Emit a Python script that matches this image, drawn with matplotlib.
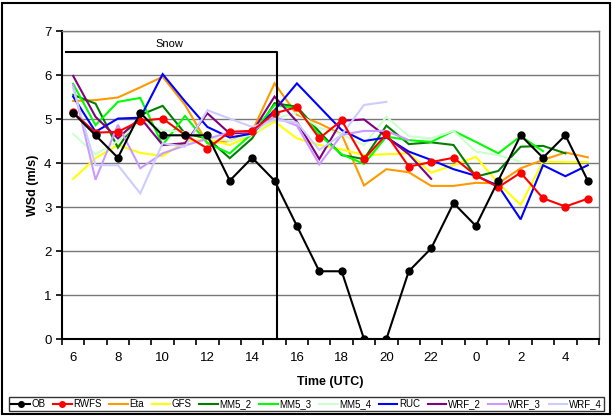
import matplotlib
matplotlib.use("Agg")
import matplotlib.pyplot as plt
from matplotlib.patches import Rectangle
import numpy as np

plt.rcParams['font.family'] = ['Liberation Sans', 'DejaVu Sans']

hours = [6, 7, 8, 9, 10, 11, 12, 13, 14, 15, 16, 17, 18, 19, 20, 21, 22, 23,
         0, 1, 2, 3, 4, 5]

ob = [5.14, 4.63, 4.12, 5.14, 4.63, 4.63, 4.63, 3.60, 4.12, 3.60, 2.57, 1.54,
      1.54, 0.00, 0.00, 1.54, 2.06, 3.09, 2.57, 3.60, 4.63, 4.12, 4.63, 3.60]
rwfs = [5.15, 4.69, 4.71, 4.96, 5.01, 4.64, 4.33, 4.71, 4.73, 5.13, 5.27, 4.56,
        4.97, 4.09, 4.65, 3.92, 4.02, 4.12, 3.72, 3.45, 3.78, 3.20, 3.01, 3.19]
eta = [5.41, 5.43, 5.49, 5.72, 5.96, 5.32, 4.45, 4.50, 4.72, 5.81, 5.10, 4.90,
       4.65, 3.49, 3.86, 3.79, 3.48, 3.48, 3.55, 3.54, 3.88, 4.07, 4.24, 4.13]
gfs = [3.64, 4.11, 4.41, 4.23, 4.16, 4.48, 4.54, 4.41, 4.64, 4.94, 4.56, 4.41,
       4.31, 4.18, 4.20, 4.22, 3.78, 3.95, 4.14, 3.54, 3.05, 4.03, 4.02, 4.02]
mm5_2 = [5.55, 5.35, 4.35, 5.09, 5.30, 4.67, 4.56, 4.11, 4.56, 5.36, 5.28, 4.71,
         4.18, 4.09, 4.85, 4.43, 4.47, 4.41, 3.69, 3.82, 4.37, 4.39, 4.22]
mm5_3 = [5.80, 4.86, 5.39, 5.48, 4.41, 5.07, 4.45, 4.22, 4.67, 5.32, 5.24, 4.64,
         4.20, 3.98, 4.60, 4.52, 4.48, 4.73, 4.48, 4.22, 4.61, 4.27]
mm5_4 = [4.66, 4.20, 4.50, 4.95, 4.75, 4.70, 4.60, 4.50, 4.65, 5.00, 5.15, 4.80,
         4.65, 4.41, 5.05, 4.61, 4.56, 4.73, 4.26, 4.18, 4.03]
ruc = [5.51, 4.71, 5.01, 5.03, 6.02, 5.40, 4.82, 4.58, 4.67, 5.20, 5.81, 5.28,
       4.75, 4.50, 4.58, 4.26, 4.07, 3.86, 3.71, 3.48, 2.72, 3.95, 3.70, 3.95]
wrf_2 = [5.98, 5.05, 4.56, 5.03, 4.41, 4.45, 5.13, 4.67, 4.70, 5.51, 4.94, 4.09,
         4.96, 4.99, 4.60, 4.20, 3.64]
wrf_3 = [5.77, 3.62, 4.87, 3.88, 4.22, 4.40, 4.55, 4.70, 4.72, 5.05, 4.85, 3.97,
         4.64, 4.73, 4.73, 4.52]
wrf_4 = [5.70, 3.95, 3.95, 3.31, 4.45, 4.37, 5.20, 5.01, 4.82, 4.98, 4.92, 4.30,
         4.64, 5.32, 5.39]

series = [
    ("OB", ob, "#000000"),
    ("RWFS", rwfs, "#FF0000"),
    ("Eta", eta, "#FF9900"),
    ("GFS", gfs, "#FFFF00"),
    ("MM5_2", mm5_2, "#008000"),
    ("MM5_3", mm5_3, "#00FF00"),
    ("MM5_4", mm5_4, "#CCFFCC"),
    ("RUC", ruc, "#0000FF"),
    ("WRF_2", wrf_2, "#800080"),
    ("WRF_3", wrf_3, "#CC99FF"),
    ("WRF_4", wrf_4, "#CCCCFF"),
]

snow_end = 9.1
snow_level = 6.52

fig = plt.figure(figsize=(6.13, 4.17), dpi=100)
fig.patch.set_facecolor("white")
ax = fig.add_axes([0.1011, 0.187, 0.876, 0.7386])

x = np.arange(len(hours))
handles = {}
for name, vals, color in series:
    if name in ("OB", "RWFS"):
        continue
    h, = ax.plot(x[:len(vals)], vals, color=color, lw=1.5, label=name, zorder=3,
                 solid_joinstyle="miter")
    handles[name] = h
for name, vals, color in series[1::-1]:
    h, = ax.plot(x[:len(vals)], vals, color=color, lw=1.5, marker="o", ms=5,
                 label=name, zorder=5, solid_joinstyle="miter")
    handles[name] = h

# snow period bracket
ax.plot([-0.3, snow_end, snow_end], [snow_level, snow_level, 0], color="black",
        lw=1.5, zorder=6, clip_on=False)
ax.text(4.3, snow_level + 0.08, "Snow", ha="center", va="bottom", fontsize=8)

ax.set_xlim(-0.5, len(hours) - 0.5)
ax.set_ylim(0, 7)
ax.set_yticks(range(0, 8))
ax.grid(axis="y", color="#777777", lw=1.0, zorder=1)
ax.set_axisbelow(True)

ax.set_xticks(x[::2])
ax.set_xticklabels([str(h) for h in hours[::2]], fontsize=9.5)
ax.set_xticks(np.arange(-0.5, len(hours), 1.0), minor=True)
ax.tick_params(axis="x", which="major", length=0, pad=9)
ax.tick_params(axis="x", which="minor", length=4, width=1.2, direction="out")
ax.tick_params(axis="y", length=4, width=1.2, direction="out", labelsize=9.5)

for side in ("left", "bottom"):
    ax.spines[side].set_linewidth(1.5)
    ax.spines[side].set_color("black")
for side in ("top", "right"):
    ax.spines[side].set_linewidth(1.0)
    ax.spines[side].set_color("#777777")

ax.set_ylabel("WSd (m/s)", fontsize=9, fontweight="bold", labelpad=4)
ax.set_xlabel("Time (UTC)", fontsize=9, fontweight="bold", labelpad=9)

order = [name for name, _, _ in series]
leg = fig.legend([handles[n] for n in order], order, loc="lower center",
                 bbox_to_anchor=(0.5, 0.014), ncol=len(order), fontsize=7,
                 frameon=True, fancybox=False, edgecolor="black",
                 handlelength=1.9, handletextpad=0.15, columnspacing=0.8,
                 borderpad=0.2, borderaxespad=0, markerscale=0.8)
leg.get_frame().set_linewidth(1.0)

fig.patches.append(Rectangle((0.003, 0.008), 0.992, 0.986, transform=fig.transFigure,
                             fill=False, edgecolor="black", lw=1.5))

fig.savefig("out.png", dpi=100, facecolor="white")
